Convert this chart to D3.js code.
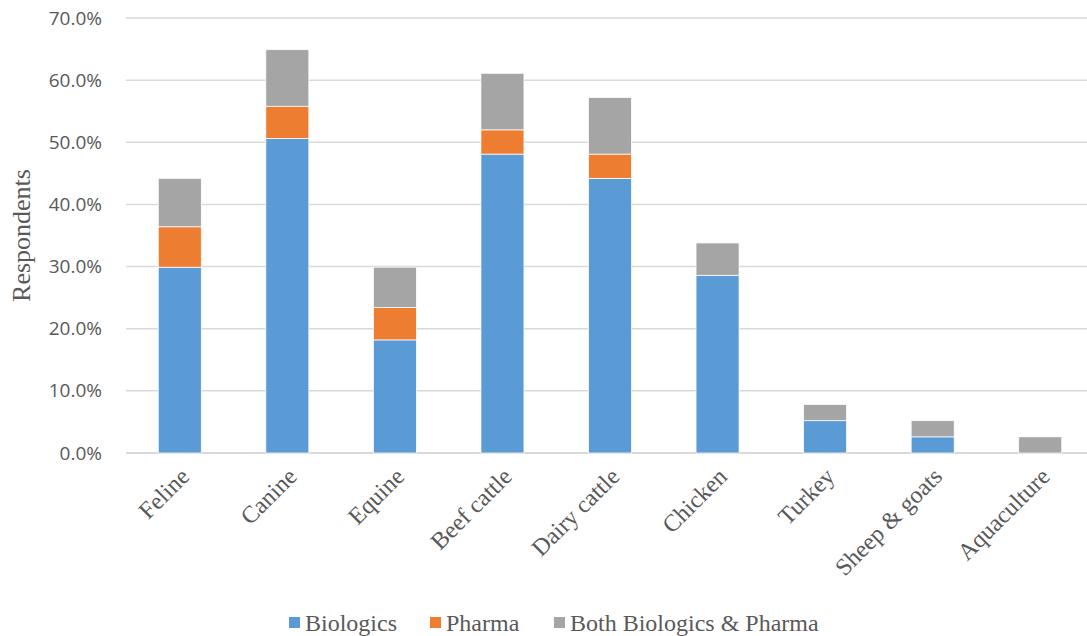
<!DOCTYPE html>
<html>
<head>
<meta charset="utf-8">
<script src="https://cdn.jsdelivr.net/npm/d3@7"></script>
<style>
  html, body { margin: 0; padding: 0; background: #fff; }
  svg { display: block; }
</style>
</head>
<body>
<svg id="chart" width="1087" height="636"></svg>
<script>
// Share of respondents by animal sector and product type (percent)
const categories = ["Feline", "Canine", "Equine", "Beef cattle", "Dairy cattle", "Chicken", "Turkey", "Sheep & goats", "Aquaculture"];
const seriesNames = ["Biologics", "Pharma", "Both Biologics & Pharma"];
const biologics = [29.9, 50.6, 18.2, 48.1, 44.2, 28.6, 5.2, 2.6, 0.0];
const pharma    = [6.5, 5.2, 5.2, 3.9, 3.9, 0.0, 0.0, 0.0, 0.0];
const both      = [7.8, 9.1, 6.5, 9.1, 9.1, 5.2, 2.6, 2.6, 2.6];
const yTicks = [0, 10, 20, 30, 40, 50, 60, 70];
const colors = ["#5b9bd5", "#ed7d31", "#a5a5a5"];

const svg = d3.select("#chart");
const plotLeft = 126, plotRight = 1094, plotTop = 18, plotBottom = 453;
const serif = "'Liberation Serif', 'Times New Roman', serif";

const rows = categories.map((c, i) => ({
  category: c,
  "Biologics": biologics[i],
  "Pharma": pharma[i],
  "Both Biologics & Pharma": both[i]
}));
const stacked = d3.stack().keys(seriesNames)(rows);

const x = d3.scaleBand().domain(categories).range([plotLeft, plotRight]).paddingInner(0.6).paddingOuter(0.3);
const y = d3.scaleLinear().domain([0, 70]).range([plotBottom, plotTop]);

// horizontal gridlines
svg.append("g")
  .selectAll("line")
  .data(yTicks)
  .join("line")
  .attr("x1", plotLeft).attr("x2", plotRight)
  .attr("y1", d => y(d)).attr("y2", d => y(d))
  .attr("stroke", "#d9d9d9")
  .attr("stroke-width", d => d === 0 ? 2 : 1.5);

// y-axis tick labels
const yAxis = d3.axisLeft(y).tickValues(yTicks).tickFormat(d => d3.format(".1f")(d) + "%").tickSize(0).tickPadding(0);
const yg = svg.append("g").attr("transform", `translate(${plotLeft - 24},0)`).call(yAxis);
yg.select(".domain").remove();
yg.selectAll("text")
  .attr("font-family", "'Open Sans', sans-serif")
  .attr("font-size", 19)
  .attr("fill", "#595959");

// stacked bars
svg.append("g")
  .selectAll("g")
  .data(stacked)
  .join("g")
  .attr("fill", (d, i) => colors[i])
  .selectAll("rect")
  .data(d => d.filter(s => s[1] - s[0] > 0))
  .join("rect")
  .attr("x", d => x(d.data.category))
  .attr("width", x.bandwidth())
  .attr("y", d => y(d[1]))
  .attr("height", d => y(d[0]) - y(d[1]))
  .attr("stroke", "#ffffff")
  .attr("stroke-width", 0.75);

// x-axis category labels, rotated
const xAxis = d3.axisBottom(x).tickSize(0).tickPadding(0);
const xg = svg.append("g").attr("transform", `translate(0,${plotBottom})`).call(xAxis);
xg.select(".domain").remove();
xg.selectAll("text")
  .attr("font-family", serif)
  .attr("font-size", 24)
  .attr("fill", "#595959")
  .attr("text-anchor", "end")
  .attr("dy", "0.35em")
  .attr("transform", "translate(5,19) rotate(-45)");

// y-axis title
svg.append("text")
  .attr("transform", `translate(30,${(plotTop + plotBottom) / 2}) rotate(-90)`)
  .attr("text-anchor", "middle")
  .attr("font-family", serif)
  .attr("font-size", 26)
  .attr("fill", "#595959")
  .text("Respondents");

// legend
const legendX = [289, 430, 554];
const legend = svg.append("g").selectAll("g")
  .data(seriesNames)
  .join("g")
  .attr("transform", (d, i) => `translate(${legendX[i]},617)`);
legend.append("rect")
  .attr("width", 11).attr("height", 11)
  .attr("fill", (d, i) => colors[i]);
legend.append("text")
  .attr("x", 16).attr("y", 14)
  .attr("font-family", serif)
  .attr("font-size", 24)
  .attr("fill", "#595959")
  .text(d => d);
</script>
</body>
</html>
